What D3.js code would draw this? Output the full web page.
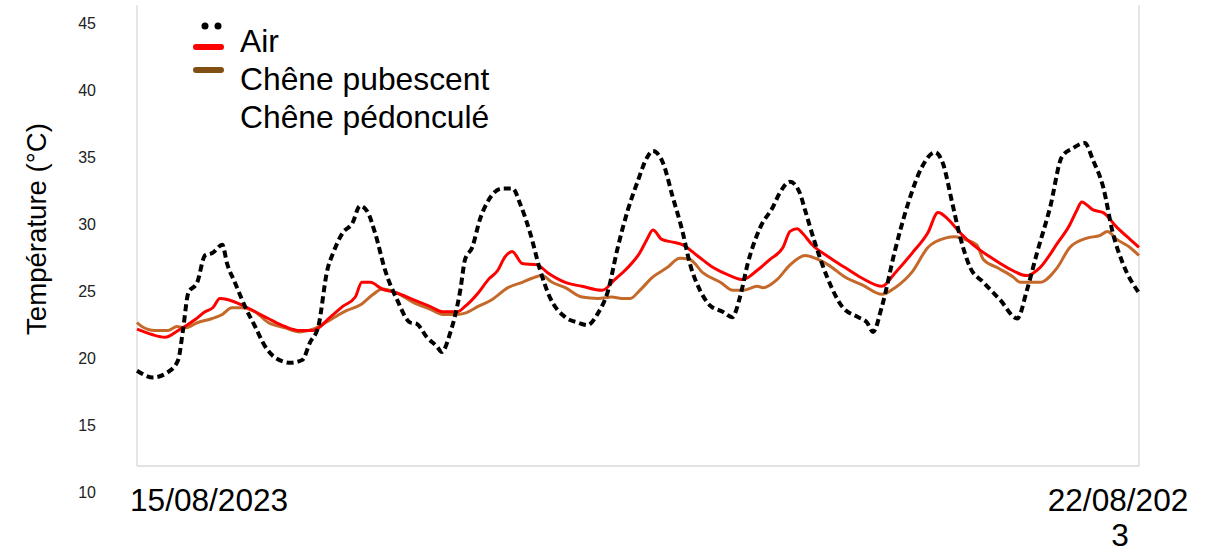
<!DOCTYPE html>
<html>
<head>
<meta charset="utf-8">
<script src="https://cdn.jsdelivr.net/npm/d3@7"></script>
<style>
  html, body { margin: 0; padding: 0; background: #fff; }
  svg { display: block; font-family: "Liberation Sans", Arial, sans-serif; }
</style>
</head>
<body>
<svg id="chart" width="1216" height="555"></svg>
<script>
// ---- Data (hours since 15/08/2023 00:00, temperature °C) ----
const airHours = [0,2.7,5.2,6.9,7.7,8.6,10.1,11.4,12.7,14.3,15.1,16.4,18.1,19.8,21.5,23.1,25.7,27.7,29.0,30.4,31.9,32.9,34.5,36.1,37.4,38.6,39.9,41.6,43.6,45.8,46.9,48.6,50.3,51.1,52.5,54.2,55.0,56.2,57.5,58.9,61.2,63.0,64.2,65.9,67.6,69.2,71.8,73.9,75.5,77.3,79.0,80.5,82.3,84.0,85.5,86.5,88.2,89.8,91.4,92.7,94.4,96.0,98.2,99.8,101.1,102.4,104.5,106.6,107.8,109.5,111.1,112.0,113.7,115.7,118.2,120.9,122.4,123.4,124.9,127.1,129.3,131.6,133.8,135.1,136.7,138.0,139.7,141.9,144.7,147.6,149.2,150.9,153.1,155.1,156.9,158.9,160.3,162.0,163.6,165.3,168];
const airTemp = [18.9,18.4,18.8,19.7,21.9,24.7,25.5,27.5,27.7,28.3,26.9,25.5,23.7,22.2,20.7,19.9,19.5,19.7,21.0,22.2,26.4,27.7,29.2,29.9,31.2,30.8,29.2,26.4,24.2,22.5,22.4,21.4,20.7,20.3,21.7,24.9,27.2,28.1,30.2,31.6,32.5,32.5,31.4,29.2,26.4,24.4,22.9,22.5,22.3,23.2,24.9,27.9,30.9,33.1,34.8,35.3,34.4,31.9,29.4,26.9,24.9,23.8,23.3,22.9,24.4,26.9,29.6,31.1,32.2,33.0,32.2,30.9,28.4,25.9,23.7,22.9,22.5,21.8,23.7,27.9,31.4,34.1,35.2,34.4,31.4,28.9,26.6,25.5,24.2,22.8,24.9,27.7,31.1,34.9,35.5,35.9,34.6,32.6,29.2,26.9,24.7];

const pubHours = [0,2.5,4.7,6.9,9.7,11.4,12.7,13.9,15.3,17.6,19.8,22.0,24.8,27.3,29.5,32.4,34.5,36.6,37.7,39.1,41.1,43.6,46.3,49.1,51.3,53.7,55.0,57.2,58.9,60.5,61.7,62.9,64.6,67.1,68.9,71.8,74.6,78.0,80.1,82.3,84.3,85.5,86.5,88.0,89.8,91.5,93.9,96.6,99.4,101.6,104.0,106.1,108.3,109.5,110.7,111.5,113.2,115.9,118.7,121.6,124.9,127.1,130.0,132.6,134.3,136.0,138.0,140.2,143.0,145.9,149.2,151.4,154.3,156.4,157.6,158.4,160.3,162.0,164.3,166.5,168];
const pubTemp = [22.0,21.6,21.4,21.9,22.7,23.3,23.6,24.3,24.2,23.8,23.3,22.8,22.2,21.9,21.9,22.9,23.7,24.4,25.5,25.5,25.0,24.7,24.2,23.7,23.3,23.3,23.7,24.7,25.7,26.4,27.4,27.8,26.9,26.8,26.2,25.5,25.2,24.9,25.7,26.6,27.7,28.7,29.4,28.7,28.5,28.3,27.5,26.6,26.0,25.7,26.4,27.2,28.1,29.3,29.5,29.2,28.3,27.4,26.6,25.8,25.2,26.2,27.7,29.2,30.7,30.2,29.2,28.3,27.4,26.6,26.0,26.6,28.4,29.8,30.9,31.5,30.9,30.7,29.6,28.7,28.1];

const pedHours = [0,0.8,3.0,5.2,6.7,8.0,10.2,12.6,14.3,15.9,17.6,19.8,22.0,24.8,27.3,29.5,32.4,35.2,37.4,39.6,41.1,43.6,46.3,49.1,51.3,53.7,55.0,57.2,59.5,62.2,64.6,66.2,67.9,69.6,71.8,74.6,77.3,79.6,81.3,82.7,84.3,86.5,88.9,91.0,92.7,94.9,97.8,99.9,101.6,104.0,105.0,107.3,109.5,112.0,113.7,115.9,118.7,121.6,124.9,127.1,130.0,132.6,135.5,137.2,138.8,140.8,141.9,144.2,146.9,148.1,151.4,154.3,156.4,159.3,161.5,162.7,164.3,166.5,168];
const pedTemp = [22.5,22.2,21.9,21.9,22.2,22.1,22.5,22.8,23.1,23.6,23.6,23.3,22.5,22.1,21.8,22.0,22.7,23.4,23.8,24.6,25.0,24.7,24.0,23.5,23.1,23.1,23.2,23.7,24.2,25.1,25.5,25.8,26.0,25.5,25.1,24.4,24.3,24.4,24.3,24.3,24.9,25.9,26.6,27.3,27.2,26.2,25.5,24.9,24.9,25.2,25.1,25.7,26.8,27.5,27.3,26.8,25.9,25.3,24.6,25.1,26.3,28.1,28.8,28.9,28.7,28.3,27.2,26.6,25.9,25.5,25.5,26.6,28.1,28.8,29.0,29.3,28.7,28.1,27.5];

const yTicks = [10,15,20,25,30,35,40,45];
const xLabelStart = ["15/08/2023"];
const xLabelEnd = ["22/08/202", "3"];
const legendLabels = ["Air", "Chêne pubescent", "Chêne pédonculé"];
const yTitle = "Température (°C)";

// ---- Layout ----
const svg = d3.select("#chart");
const plotLeft = 137, plotRight = 1139, plotTop = 5, plotBottom = 466;

const x = d3.scaleLinear().domain([0, 168]).range([plotLeft, plotRight]);
const y = d3.scaleLinear().domain([10, 45]).range([490, 21]);

// frame
const frame = svg.append("g").attr("stroke", "#d9d9d9").attr("stroke-width", 1.3).attr("fill", "none");
frame.append("line").attr("x1", plotLeft).attr("x2", plotLeft).attr("y1", plotTop).attr("y2", plotBottom);
frame.append("line").attr("x1", plotRight).attr("x2", plotRight).attr("y1", plotTop).attr("y2", plotBottom);
frame.append("line").attr("x1", plotLeft).attr("x2", plotRight).attr("y1", plotBottom).attr("y2", plotBottom);

// y tick labels
const yAxis = d3.axisLeft(y).tickValues(yTicks).tickSize(0).tickPadding(0).tickFormat(d3.format("d"));
const yg = svg.append("g").attr("transform", "translate(96,2)").call(yAxis);
yg.select(".domain").remove();
yg.selectAll("text").attr("font-size", 16).attr("fill", "#222")
  .attr("font-family", "Liberation Sans, Arial, sans-serif");

// y title
svg.append("text")
  .attr("transform", "translate(46,229) rotate(-90)")
  .attr("text-anchor", "middle")
  .attr("font-size", 27.6).attr("fill", "#000")
  .text(yTitle);

// x labels
svg.append("text").attr("x", x(0) - 7).attr("y", 511)
  .attr("font-size", 31.6).attr("fill", "#000").text(xLabelStart[0]);
svg.append("text").attr("x", x(168) - 21).attr("y", 511).attr("text-anchor", "middle")
  .attr("font-size", 31.6).attr("fill", "#000").text(xLabelEnd[0]);
svg.append("text").attr("x", x(168) - 19).attr("y", 546).attr("text-anchor", "middle")
  .attr("font-size", 31.6).attr("fill", "#000").text(xLabelEnd[1]);

// lines
function series(h, t) { return h.map((d, i) => [d, t[i]]); }
const line = d3.line().x(d => x(d[0])).y(d => y(d[1])).curve(d3.curveMonotoneX);

svg.append("path").datum(series(pedHours, pedTemp))
  .attr("d", line).attr("fill", "none").attr("stroke", "#c5692b").attr("stroke-width", 3)
  .attr("stroke-linejoin", "round");
svg.append("path").datum(series(pubHours, pubTemp))
  .attr("d", line).attr("fill", "none").attr("stroke", "#ff0000").attr("stroke-width", 3)
  .attr("stroke-linejoin", "round");
svg.append("path").datum(series(airHours, airTemp))
  .attr("d", line).attr("fill", "none").attr("stroke", "#000").attr("stroke-width", 4)
  .attr("stroke-dasharray", "7,4");

// legend
const lg = svg.append("g");
lg.append("circle").attr("cx", 205).attr("cy", 26).attr("r", 3.5).attr("fill", "#000");
lg.append("circle").attr("cx", 218).attr("cy", 26).attr("r", 3.5).attr("fill", "#000");
lg.append("line").attr("x1", 196).attr("x2", 221).attr("y1", 47).attr("y2", 47)
  .attr("stroke", "#ff0000").attr("stroke-width", 6).attr("stroke-linecap", "round");
lg.append("line").attr("x1", 196).attr("x2", 221).attr("y1", 70).attr("y2", 70)
  .attr("stroke", "#7f4f13").attr("stroke-width", 6).attr("stroke-linecap", "round");
legendLabels.forEach((t, i) => {
  lg.append("text").attr("x", 240).attr("y", 52 + i * 38)
    .attr("font-size", 31.8).attr("fill", "#000").text(t);
});
</script>
</body>
</html>
